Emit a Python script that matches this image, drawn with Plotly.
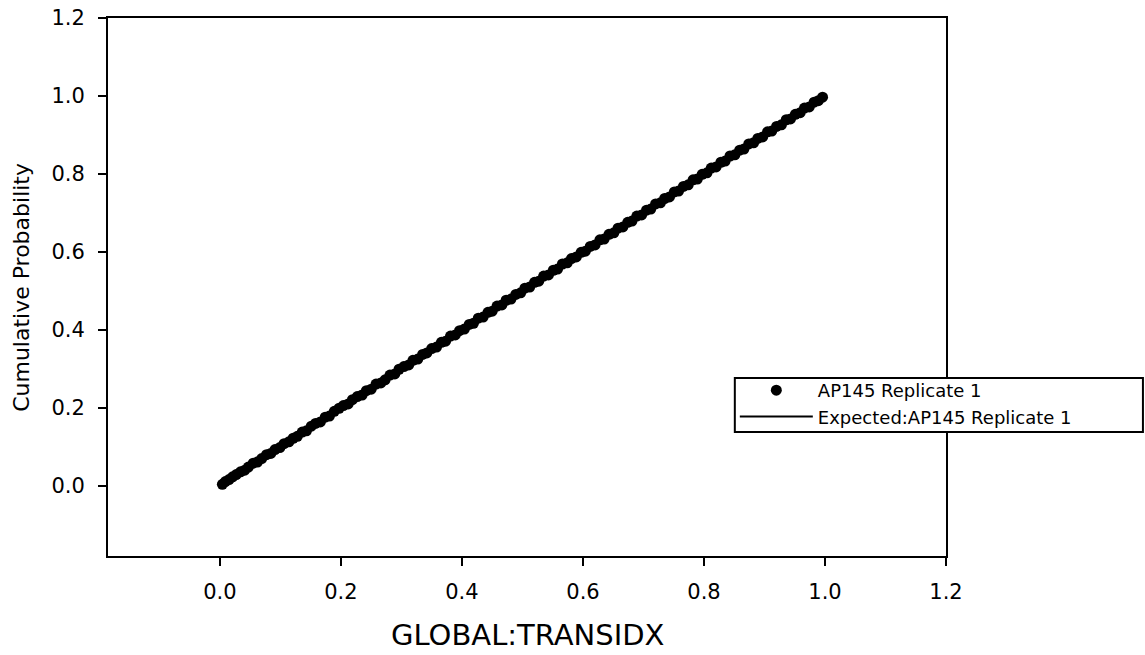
import plotly.graph_objects as go

obs_x = [0.004, 0.009, 0.015, 0.021, 0.027, 0.034, 0.041, 0.047, 0.055, 0.062, 0.069, 0.077, 0.084, 0.091, 0.099,
         0.106, 0.114, 0.121, 0.128, 0.136, 0.143, 0.151, 0.158, 0.166, 0.174, 0.181, 0.189, 0.197, 0.204, 0.212,
         0.219, 0.227, 0.235, 0.242, 0.250, 0.258, 0.266, 0.273, 0.281, 0.289, 0.296, 0.304, 0.312, 0.319, 0.327,
         0.335, 0.342, 0.350, 0.358, 0.366, 0.373, 0.381, 0.389, 0.396, 0.404, 0.412, 0.419, 0.427, 0.435, 0.443,
         0.450, 0.458, 0.466, 0.473, 0.481, 0.489, 0.497, 0.504, 0.512, 0.520, 0.527, 0.535, 0.543, 0.551, 0.558,
         0.566, 0.574, 0.581, 0.589, 0.597, 0.604, 0.612, 0.620, 0.628, 0.635, 0.643, 0.651, 0.658, 0.666, 0.674,
         0.681, 0.689, 0.697, 0.705, 0.712, 0.720, 0.728, 0.735, 0.743, 0.751, 0.758, 0.766, 0.774, 0.782, 0.789,
         0.797, 0.805, 0.812, 0.820, 0.828, 0.835, 0.843, 0.851, 0.859, 0.866, 0.874, 0.882, 0.889, 0.897, 0.905,
         0.912, 0.920, 0.928, 0.936, 0.943, 0.951, 0.959, 0.966, 0.974, 0.982, 0.989, 0.996]
obs_y = [0.004, 0.011, 0.016, 0.023, 0.029, 0.036, 0.040, 0.048, 0.058, 0.061, 0.070, 0.080, 0.083, 0.093, 0.098,
         0.108, 0.113, 0.122, 0.127, 0.138, 0.141, 0.153, 0.160, 0.164, 0.176, 0.179, 0.191, 0.199, 0.206, 0.210,
         0.221, 0.229, 0.233, 0.244, 0.248, 0.261, 0.264, 0.272, 0.284, 0.287, 0.299, 0.306, 0.310, 0.322, 0.325,
         0.337, 0.341, 0.352, 0.356, 0.368, 0.371, 0.384, 0.387, 0.398, 0.402, 0.414, 0.417, 0.430, 0.433, 0.445,
         0.448, 0.461, 0.464, 0.476, 0.479, 0.491, 0.495, 0.507, 0.510, 0.522, 0.525, 0.538, 0.541, 0.553, 0.556,
         0.569, 0.572, 0.583, 0.587, 0.599, 0.602, 0.614, 0.618, 0.631, 0.633, 0.645, 0.649, 0.661, 0.664, 0.676,
         0.679, 0.692, 0.695, 0.707, 0.710, 0.723, 0.726, 0.737, 0.741, 0.754, 0.756, 0.768, 0.772, 0.785, 0.787,
         0.799, 0.803, 0.815, 0.818, 0.830, 0.833, 0.846, 0.849, 0.861, 0.864, 0.877, 0.880, 0.891, 0.895, 0.908,
         0.910, 0.922, 0.926, 0.939, 0.941, 0.953, 0.957, 0.969, 0.972, 0.984, 0.988, 0.997]

expected_x = [0.0, 1.0]
expected_y = [0.0, 1.0]

tick_vals = [0.0, 0.2, 0.4, 0.6, 0.8, 1.0, 1.2]
tick_text = ["0.0", "0.2", "0.4", "0.6", "0.8", "1.0", "1.2"]

x_title = "GLOBAL:TRANSIDX"
y_title = "Cumulative Probability"

FONT = "DejaVu Sans"

fig = go.Figure()
fig.add_trace(go.Scatter(
    x=obs_x, y=obs_y, mode="markers", name="AP145 Replicate 1",
    marker=dict(color="black", size=11, line=dict(width=0)),
))
fig.add_trace(go.Scatter(
    x=expected_x, y=expected_y, mode="lines", name="Expected:AP145 Replicate 1",
    line=dict(color="black", width=2),
))

axis_common = dict(
    showgrid=False, zeroline=False, showline=True, linecolor="black", linewidth=2,
    mirror=True, ticks="outside", ticklen=8, tickwidth=2, tickcolor="black",
    tickvals=tick_vals, ticktext=tick_text, automargin=False,
    tickfont=dict(family=FONT, size=21, color="black"),
)

fig.update_layout(
    width=1145, height=655,
    margin=dict(l=108, r=199, t=18, b=99),
    paper_bgcolor="white", plot_bgcolor="white",
    font=dict(family=FONT, color="black"),
    xaxis=dict(range=[-0.185, 1.2], ticklabelstandoff=8, **axis_common),
    yaxis=dict(range=[-0.18, 1.2], ticklabelstandoff=9, **axis_common),
    legend=dict(
        x=0.748, y=0.342, xanchor="left", yanchor="top",
        borderwidth=0, bgcolor="rgba(0,0,0,0)",
        font=dict(family=FONT, size=18, color="black"),
        itemwidth=73, tracegroupgap=0,
    ),
    shapes=[
        dict(type="rect", xref="paper", yref="paper", x0=0.748, x1=1.235, y0=0.2305, y1=0.331,
             line=dict(color="black", width=2), fillcolor="white", layer="above"),
    ],
    annotations=[
        dict(text=x_title, xref="paper", yref="paper", x=0.5, y=-0.147,
             xanchor="center", yanchor="middle", showarrow=False,
             font=dict(family=FONT, size=29, color="black")),
        dict(text=y_title, xref="paper", yref="paper", x=-0.104, y=0.5,
             xanchor="center", yanchor="middle", showarrow=False, textangle=-90,
             font=dict(family=FONT, size=22, color="black")),
    ],
    showlegend=True,
)

fig.write_html("out.html")
